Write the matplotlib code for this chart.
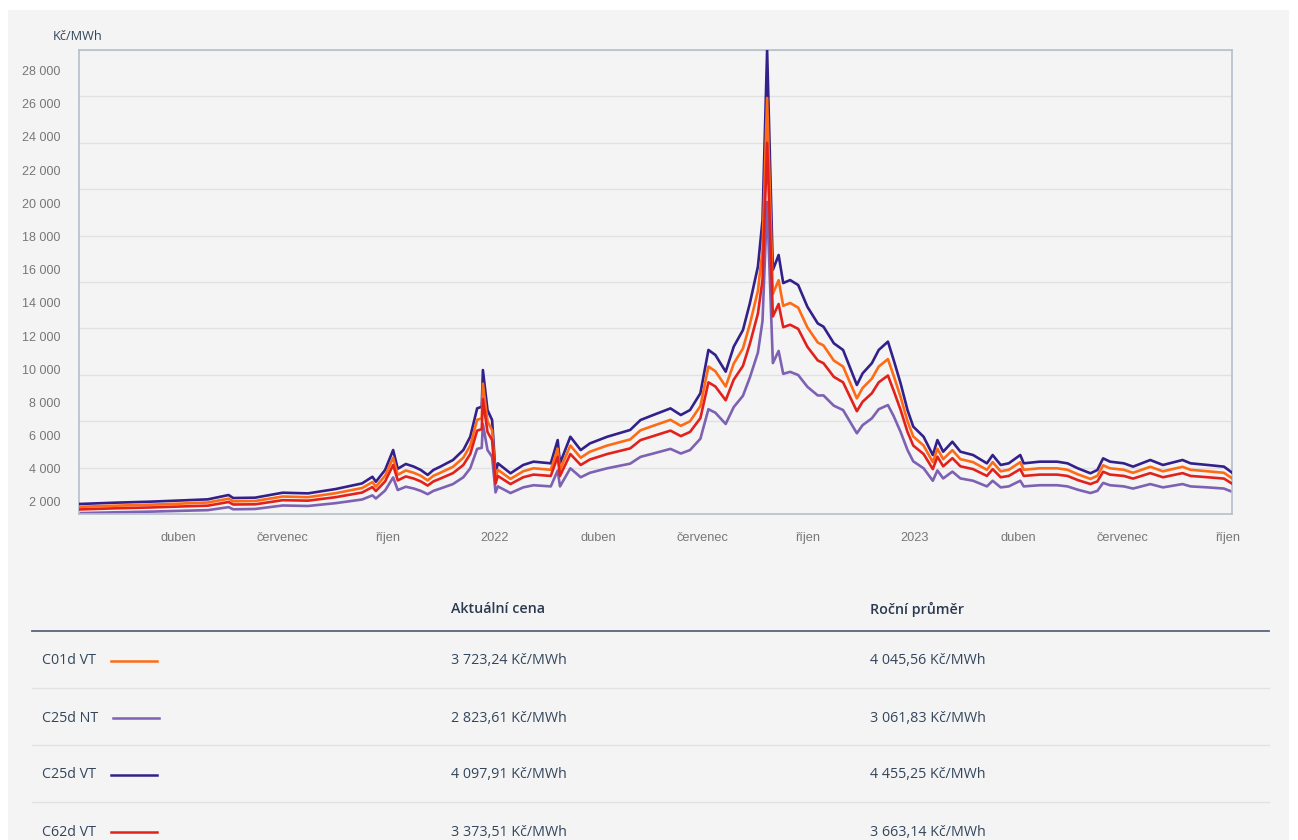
import matplotlib
matplotlib.use('Agg')
import matplotlib.pyplot as plt
import matplotlib.dates as mdates
from matplotlib.lines import Line2D
from matplotlib.patches import Rectangle
from matplotlib.ticker import FixedLocator
import numpy as np
import pandas as pd

dates = [
    '2021-01-05', '2021-02-06', '2021-03-08', '2021-03-30', '2021-04-27', '2021-05-15',
    '2021-05-19', '2021-06-07', '2021-07-01', '2021-07-23', '2021-08-16', '2021-09-08',
    '2021-09-17', '2021-09-20', '2021-09-28', '2021-10-05', '2021-10-09', '2021-10-16',
    '2021-10-23', '2021-10-29', '2021-11-04', '2021-11-09', '2021-11-15', '2021-11-26',
    '2021-12-05', '2021-12-11', '2021-12-17', '2021-12-21', '2021-12-22', '2021-12-26',
    '2021-12-30', '2022-01-02', '2022-01-04', '2022-01-15', '2022-01-26', '2022-02-04',
    '2022-02-19', '2022-02-25', '2022-02-27', '2022-03-08', '2022-03-17', '2022-03-25',
    '2022-04-09', '2022-04-29', '2022-05-08', '2022-05-19', '2022-06-03', '2022-06-12',
    '2022-06-20', '2022-06-29', '2022-07-06', '2022-07-12', '2022-07-21', '2022-07-28',
    '2022-08-05', '2022-08-11', '2022-08-18', '2022-08-22', '2022-08-26', '2022-08-31',
    '2022-09-05', '2022-09-09', '2022-09-15', '2022-09-22', '2022-09-30', '2022-10-09',
    '2022-10-14', '2022-10-23', '2022-10-31', '2022-11-12', '2022-11-17', '2022-11-25',
    '2022-12-01', '2022-12-09', '2022-12-14', '2022-12-20', '2022-12-26', '2022-12-31',
    '2023-01-09', '2023-01-17', '2023-01-21', '2023-01-26', '2023-02-03', '2023-02-10',
    '2023-02-21', '2023-03-05', '2023-03-10', '2023-03-17', '2023-03-24', '2023-04-03',
    '2023-04-06', '2023-04-20', '2023-05-05', '2023-05-14', '2023-05-23', '2023-06-03',
    '2023-06-09', '2023-06-14', '2023-06-20', '2023-07-02', '2023-07-10', '2023-07-25',
    '2023-08-05', '2023-08-22', '2023-08-29', '2023-09-13', '2023-09-27', '2023-10-04',
]

# Kč/MWh
c25d_vt = [
    1880, 1960, 2020, 2080, 2160, 2420, 2240, 2260, 2560, 2520, 2780, 3120,
    3520, 3220, 3930, 5130, 4000, 4290, 4130, 3930, 3630, 3930, 4130, 4530,
    5130, 5930, 7640, 7740, 9950, 7540, 6940, 3730, 4330, 3730, 4230, 4430,
    4330, 5730, 4330, 5930, 5130, 5530, 5930, 6340, 6940, 7240, 7640, 7240,
    7540, 8550, 11160, 10860, 9850, 11360, 12360, 13970, 16180, 18990, 29200, 15980,
    16880, 15190, 15370, 15070, 13760, 12760, 12560, 11560, 11160, 9050, 9750, 10360,
    11160, 11660, 10550, 9150, 7540, 6540, 5930, 4830, 5730, 5030, 5630, 5030,
    4830, 4330, 4830, 4230, 4330, 4830, 4330, 4430, 4430, 4330, 4030, 3730,
    3930, 4630, 4430, 4330, 4130, 4530, 4230, 4530, 4330, 4230, 4130, 3770,
]
c01d_vt = [
    1710, 1780, 1840, 1890, 1970, 2200, 2040, 2060, 2330, 2290, 2530, 2840,
    3200, 2930, 3580, 4670, 3640, 3900, 3760, 3580, 3300, 3580, 3760, 4120,
    4670, 5400, 6950, 7040, 9130, 6860, 6320, 3420, 3940, 3390, 3850, 4030,
    3940, 5210, 3940, 5400, 4670, 5030, 5400, 5770, 6320, 6590, 6950, 6590,
    6860, 7780, 10160, 9880, 8960, 10340, 11250, 12710, 14720, 17180, 26340, 14540,
    15360, 13820, 13990, 13710, 12520, 11610, 11430, 10520, 10160, 8240, 8870, 9430,
    10160, 10610, 9600, 8330, 6860, 5950, 5400, 4400, 5210, 4580, 5120, 4580,
    4400, 3940, 4400, 3850, 3940, 4400, 3940, 4030, 4030, 3940, 3670, 3390,
    3580, 4210, 4030, 3940, 3760, 4120, 3850, 4120, 3940, 3850, 3760, 3430,
]
c62d_vt = [
    1550, 1620, 1670, 1720, 1780, 2000, 1850, 1860, 2110, 2080, 2290, 2570,
    2900, 2660, 3240, 4230, 3300, 3540, 3410, 3240, 2990, 3240, 3410, 3740,
    4230, 4890, 6300, 6390, 8200, 6220, 5730, 3110, 3570, 3080, 3490, 3650,
    3570, 4730, 3570, 4890, 4230, 4560, 4890, 5230, 5730, 5970, 6300, 5970,
    6220, 7050, 9210, 8960, 8130, 9370, 10200, 11530, 13350, 15370, 23630, 13180,
    13930, 12530, 12680, 12430, 11350, 10530, 10360, 9540, 9210, 7470, 8040, 8550,
    9210, 9620, 8700, 7550, 6220, 5400, 4890, 3980, 4730, 4150, 4640, 4150,
    3980, 3570, 3980, 3490, 3570, 3980, 3570, 3650, 3650, 3570, 3320, 3080,
    3240, 3820, 3650, 3570, 3410, 3740, 3490, 3740, 3570, 3490, 3410, 3110,
]
c25d_nt = [
    1330, 1380, 1420, 1460, 1510, 1690, 1560, 1580, 1790, 1760, 1930, 2150,
    2400, 2210, 2690, 3480, 2720, 2920, 2810, 2670, 2470, 2670, 2810, 3080,
    3490, 4030, 5200, 5260, 6700, 5130, 4720, 2580, 2940, 2540, 2880, 3010,
    2940, 3900, 2940, 4030, 3490, 3760, 4030, 4310, 4720, 4920, 5200, 4920,
    5130, 5810, 7590, 7380, 6700, 7720, 8400, 9500, 11000, 12910, 20070, 10370,
    11100, 9720, 9840, 9650, 8940, 8420, 8420, 7800, 7540, 6140, 6630, 7040,
    7590, 7840, 7170, 6220, 5130, 4450, 4030, 3280, 3900, 3420, 3830, 3420,
    3280, 2940, 3280, 2880, 2940, 3280, 2940, 3010, 3010, 2940, 2740, 2540,
    2670, 3150, 3010, 2940, 2810, 3080, 2880, 3080, 2940, 2880, 2810, 2620,
]

series_names = ['C01d VT', 'C25d NT', 'C25d VT', 'C62d VT']
current_price = ['3 723,24 Kč/MWh', '2 823,61 Kč/MWh', '4 097,91 Kč/MWh', '3 373,51 Kč/MWh']
annual_avg = ['4 045,56 Kč/MWh', '3 061,83 Kč/MWh', '4 455,25 Kč/MWh', '3 663,14 Kč/MWh']

tick_dates = ['2021-04-01', '2021-07-01', '2021-10-01', '2022-01-01', '2022-04-01', '2022-07-01',
              '2022-10-01', '2023-01-01', '2023-04-01', '2023-07-01', '2023-10-01']
tick_labels = ['duben', 'červenec', 'říjen', '2022', 'duben', 'červenec', 'říjen',
               '2023', 'duben', 'červenec', 'říjen']
y_ticks = list(range(2000, 28001, 2000))

colors = {'C01d VT': '#ff6a14', 'C25d NT': '#7d61b2', 'C25d VT': '#33208a', 'C62d VT': '#e3211c'}
values = {'C01d VT': c01d_vt, 'C25d NT': c25d_nt, 'C25d VT': c25d_vt, 'C62d VT': c62d_vt}
zorders = {'C25d NT': 2, 'C25d VT': 3, 'C01d VT': 4, 'C62d VT': 5}

W, H = 1298, 840
BG = '#f4f4f4'
TEXT = '#34465c'


def fx(x):
    return x / W


def fy(y):
    return 1 - y / H


fig = plt.figure(figsize=(W / 100, H / 100), dpi=100, facecolor='white')
fig.add_artist(Rectangle((fx(8), 0), fx(1289 - 8), fy(10), transform=fig.transFigure,
                         facecolor=BG, edgecolor='none', zorder=0))

ax = fig.add_axes([fx(79), fy(514), fx(1232 - 79), (514 - 50) / H])
ax.set_facecolor(BG)

x = pd.to_datetime(dates)
for name in ['C25d NT', 'C25d VT', 'C01d VT', 'C62d VT']:
    ax.plot(x, values[name], color=colors[name], lw=1.9, zorder=zorders[name],
            solid_joinstyle='round')

ylo, yhi = 1277, 29230
ax.set_ylim(ylo, yhi)
ax.set_xlim(pd.Timestamp('2021-01-05'), pd.Timestamp('2023-10-04'))

ax.set_yticks(y_ticks)
ax.set_yticklabels([f'{v:,}'.replace(',', ' ') for v in y_ticks])
ax.yaxis.set_minor_locator(FixedLocator(np.linspace(ylo, yhi, 11)))

tick_x = pd.to_datetime(tick_dates)
ax.set_xticks(tick_x)
ax.set_xticklabels(tick_labels)
ax.xaxis.set_minor_locator(FixedLocator(mdates.date2num(tick_x[1:])))

ax.grid(False)
ax.grid(which='minor', color='#e1e1e3', lw=1)
ax.set_axisbelow(True)
ax.tick_params(which='both', length=0)
ax.tick_params(axis='y', pad=13.5, labelsize=9, labelcolor='#777777')
ax.tick_params(axis='x', pad=13, labelsize=9.2, labelcolor='#777777')
for lab in ax.get_xticklabels() + ax.get_yticklabels():
    lab.set_family('Liberation Sans')
for sp in ax.spines.values():
    sp.set_color('#b3c0cd')
    sp.set_linewidth(1.2)

fig.text(fx(53), fy(37), 'Kč/MWh', family='Open Sans', fontsize=9.2, color=TEXT,
         va='center', ha='left')

# table under the chart
fig.text(fx(451), fy(609), 'Aktuální cena', family='Open Sans', weight='semibold',
         fontsize=10.3, color='#2b3a50', va='center')
fig.text(fx(870), fy(609), 'Roční průměr', family='Open Sans', weight='semibold',
         fontsize=10.3, color='#2b3a50', va='center')
fig.add_artist(Line2D([fx(32), fx(1269)], [fy(631), fy(631)], color='#56667a', lw=1.3))

row_h = 57
for i, name in enumerate(series_names):
    yc = 661 + i * row_h
    fig.text(fx(42), fy(yc), name, family='Open Sans', fontsize=10.3, color=TEXT, va='center')
    x0 = 113 if name == 'C25d NT' else 111
    fig.add_artist(Line2D([fx(x0), fx(x0 + 46)], [fy(yc), fy(yc)], color=colors[name], lw=1.8))
    fig.text(fx(451), fy(yc), current_price[i], family='Open Sans', fontsize=10.3,
             color=TEXT, va='center')
    fig.text(fx(870), fy(yc), annual_avg[i], family='Open Sans', fontsize=10.3,
             color=TEXT, va='center')
    if i < len(series_names) - 1:
        ys = yc + 27
        fig.add_artist(Line2D([fx(32), fx(1269)], [fy(ys), fy(ys)], color='#e2e2e2', lw=1))

fig.savefig('out.png', dpi=100, facecolor='white')
